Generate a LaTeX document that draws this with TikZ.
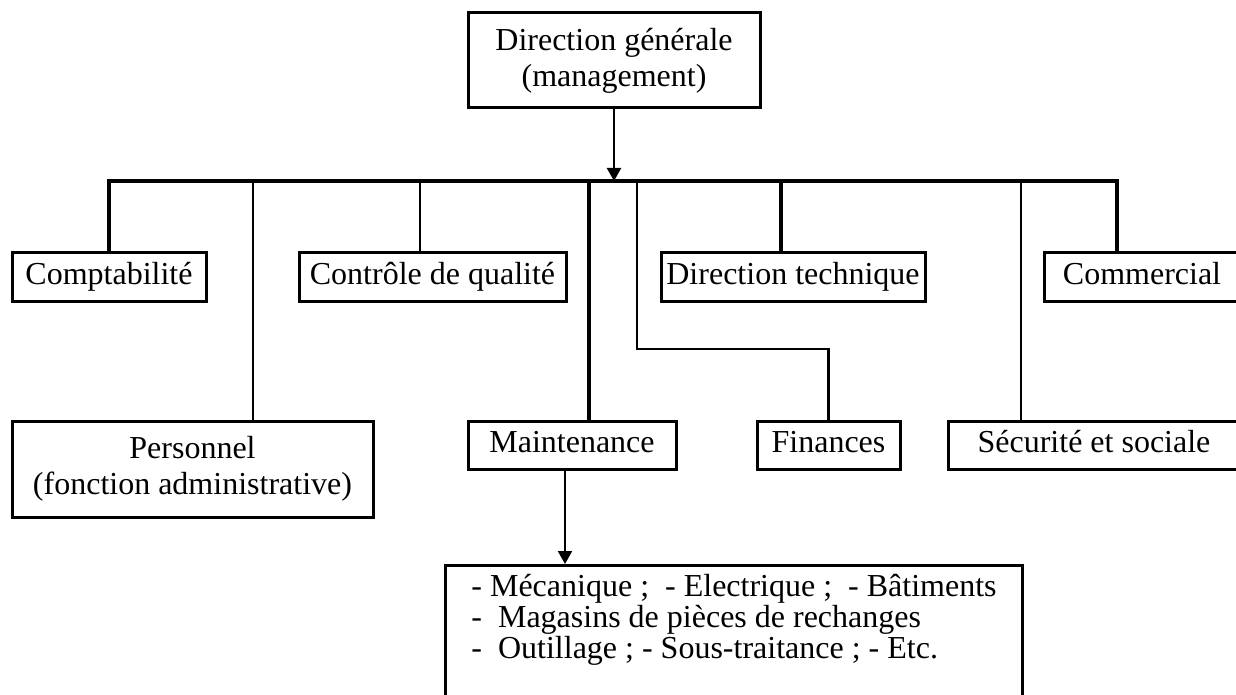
\documentclass[tikz,border=0pt]{standalone}
\usepackage{fontspec}
\setmainfont{Liberation Serif}
\usepackage{tikz}
\usetikzlibrary{arrows.meta}
\tikzset{
  orgbox/.style={draw=black, line width=1.5pt, align=center,
    inner sep=0pt, minimum height=24pt},
  orgcell/.style={orgbox, text height=11pt, text depth=3.5pt},
  orgthick/.style={line width=1.75pt, draw=black},
  orgthin/.style={line width=1.1pt, draw=black},
  orgarrow/.style={-{Triangle[length=6.5pt, width=7pt]}, line width=1.1pt,
    draw=black}
}

\begin{document}
\begin{tikzpicture}[x=0.5pt, y=-0.5pt, font=\fontsize{16pt}{18pt}\selectfont]
  \clip (0,0) rectangle (1236,695);
  \fill[white] (0,0) rectangle (1236,695);

  % top of the chart
  \node[orgbox, minimum width=146pt, minimum height=47.5pt] (dirgen)
    at (614,60.5) {Direction générale\\(management)};

  % first row
  \node[orgcell, minimum width=97pt] (compta) at (109,277) {Comptabilité};
  \node[orgcell, minimum width=133.5pt] (controle) at (432.5,277)
    {Contrôle de qualité};
  \node[orgcell, minimum width=132pt] (dirtech) at (793,277)
    {Direction technique};
  \node[orgcell, minimum width=98pt] (commercial) at (1142,277)
    {Commercial};

  % second row
  \node[orgbox, minimum width=180.5pt, minimum height=48pt] (personnel)
    at (192.5,469) {Personnel\\(fonction administrative)};
  \node[orgcell, minimum width=104pt] (maintenance) at (572,445)
    {Maintenance};
  \node[orgcell, minimum width=71.5pt] (finances) at (828.5,445)
    {Finances};
  \node[orgcell, minimum width=146pt] (securite) at (1094,445)
    {Sécurité et sociale};

  % maintenance detail
  \node[orgbox, anchor=north west, minimum width=288.5pt, align=left,
    inner ysep=4.5pt, text depth=22pt,
    font=\fontsize{16pt}{14.3pt}\selectfont] (techbox) at (444,564)
    {- Mécanique ;\ \ - Electrique ;\ \ - Bâtiments\\
     -\ \ Magasins de pièces de rechanges\\
     -\ \ Outillage ; - Sous-traitance ; - Etc.};

  % taps on the bus
  \coordinate (busR) at (1117,181);
  \coordinate (tapP) at (253,181);
  \coordinate (tapC) at (420,181);
  \coordinate (tapM) at (589,181);
  \coordinate (tapF) at (637,181);
  \coordinate (tapD) at (781,181);
  \coordinate (tapS) at (1021,181);

  \draw[orgthick] (compta.north) |- (busR) -- (busR |- commercial.north);
  \draw[orgarrow] (dirgen.south) -- (dirgen.south |- busR);

  \draw[orgthin] (tapP) -- (tapP |- personnel.north);
  \draw[orgthin] (tapC) -- (tapC |- controle.north);
  \draw[orgthick] (tapM) -- (tapM |- maintenance.north);
  \draw[orgthin] (tapF) -- ++(0,168) -| (finances.north);
  \draw[orgthick] (tapD) -- (tapD |- dirtech.north);
  \draw[orgthin] (tapS) -- (tapS |- securite.north);

  \draw[orgarrow] ([xshift=-3.5pt]maintenance.south)
    -- ([xshift=-3.5pt]maintenance.south |- techbox.north);
\end{tikzpicture}
\end{document}
